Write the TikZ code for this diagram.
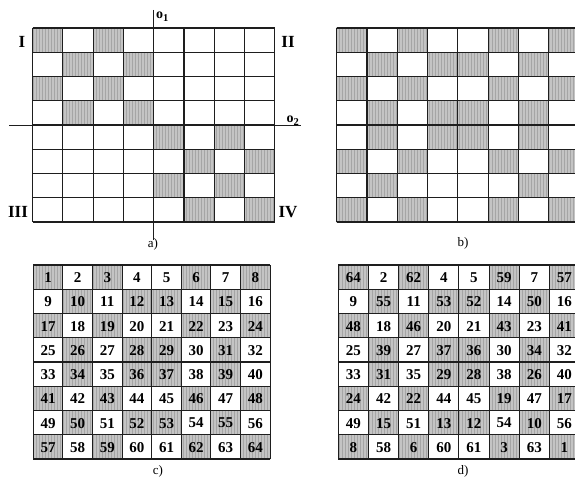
\documentclass[tikz,border=0pt]{standalone}
\usepackage{fontspec}
\setmainfont{Liberation Serif}
\usetikzlibrary{patterns}
\definecolor{hatch}{RGB}{196,196,196}
\definecolor{hatchline}{RGB}{165,165,165}
\definecolor{gridcol}{RGB}{30,30,30}
\tikzset{
  shadecell/.style={fill=hatch},
  hatchcell/.style={pattern=vertical lines, pattern color=hatchline},
  gridline/.style={draw=gridcol, line width=1.1pt},
  axisline/.style={draw=gridcol, line width=1pt},
  numtxt/.style={font=\fontsize{15}{15}\selectfont\bfseries, inner sep=0pt},
  romtxt/.style={font=\fontsize{17}{17}\selectfont\bfseries, inner sep=0pt},
  axtxt/.style={font=\fontsize{14}{14}\selectfont\bfseries, inner sep=0pt},
  captxt/.style={font=\fontsize{13}{13}\selectfont, inner sep=0pt}
}
% #1 left, #2 top, #3 cell w, #4 cell h, #5 shading list
\newcommand\shadegrid[5]{%
  \foreach \r/\cols in {#5}{%
    \foreach \c in \cols{%
      \path[shadecell] ({#1+(\c-1)*#3},{#2+(\r-1)*#4}) rectangle ++(#3,#4);
      \path[hatchcell] ({#1+(\c-1)*#3},{#2+(\r-1)*#4}) rectangle ++(#3,#4);
    }}%
  \foreach \i in {0,...,8}{%
    \draw[gridline] ({#1+\i*#3},#2) -- ({#1+\i*#3},{#2+8*#4});
    \draw[gridline] (#1,{#2+\i*#4}) -- ({#1+8*#3},{#2+\i*#4});
  }}
% #1 left, #2 top, #3 cell w, #4 cell h, #5 rows of numbers, #6 prefix
\newcommand\numgrid[6]{%
  \foreach \r/\row in {#5}{%
    \foreach \n [count=\c] in \row{%
      \node[numtxt] (#6-\r-\c) at ({#1+(\c-0.5)*#3},{#2+(\r-0.5)*#4+0.5}) {\n};
    }}}
\begin{document}
\begin{tikzpicture}[x=1pt,y=-1pt]
\useasboundingbox (0,0) rectangle (575,489);
\clip (0,0) rectangle (575,489);
\fill[white] (0,0) rectangle (575,489);

% ---------- panel a ----------
\shadegrid{32.5}{28}{30.3}{24.25}{1/{1,3},2/{2,4},3/{1,3},4/{2,4},5/{5,7},6/{6,8},7/{5,7},8/{6,8}}
\coordinate (vtop) at (153.7,10);
\coordinate (vbot) at (153.7,240);
\coordinate (hleft) at (9,126);
\coordinate (hright) at (301,126);
\draw[axisline] (vtop) -- (vbot);
\draw[axisline] (hleft) -- (hright);
\node[axtxt, anchor=base west] (o1) at (156,19) {o\raisebox{-0.45ex}{\fontsize{10.5}{10.5}\selectfont 1}};
\node[axtxt, anchor=base west] (o2) at (286.5,123) {o\raisebox{-0.45ex}{\fontsize{10.5}{10.5}\selectfont 2}};
\node[romtxt] (qI) at (22,42) {I};
\node[romtxt] (qII) at (288,42) {II};
\node[romtxt] (qIII) at (18,212) {III};
\node[romtxt] (qIV) at (288,212) {IV};
\node[captxt] (capa) at (153,244) {a)};

% ---------- panel b ----------
\shadegrid{336.7}{28}{30.3}{24.25}{1/{1,3,6,8},2/{2,4,5,7},3/{1,3,6,8},4/{2,4,5,7},5/{2,4,5,7},6/{1,3,6,8},7/{2,7},8/{1,3,6,8}}
\node[captxt] (capb) at (463,243) {b)};

% ---------- panel c ----------
\shadegrid{33.3}{265}{29.6}{24.25}{1/{1,3,6,8},2/{2,4,5,7},3/{1,3,6,8},4/{2,4,5,7},5/{2,4,5,7},6/{1,3,6,8},7/{2,4,5,7},8/{1,3,6,8}}
\numgrid{33.3}{265}{29.6}{24.25}{%
1/{1,2,3,4,5,6,7,8},
2/{9,10,11,12,13,14,15,16},
3/{17,18,19,20,21,22,23,24},
4/{25,26,27,28,29,30,31,32},
5/{33,34,35,36,37,38,39,40},
6/{41,42,43,44,45,46,47,48},
7/{49,50,51,52,53,54,55,56},
8/{57,58,59,60,61,62,63,64}}{c}
\node[captxt] (capc) at (158,471) {c)};

% ---------- panel d ----------
\shadegrid{338.3}{265}{30.15}{24.25}{1/{1,3,6,8},2/{2,4,5,7},3/{1,3,6,8},4/{2,4,5,7},5/{2,4,5,7},6/{1,3,6,8},7/{2,4,5,7},8/{1,3,6,8}}
\numgrid{338.3}{265}{30.15}{24.25}{%
1/{64,2,62,4,5,59,7,57},
2/{9,55,11,53,52,14,50,16},
3/{48,18,46,20,21,43,23,41},
4/{25,39,27,37,36,30,34,32},
5/{33,31,35,29,28,38,26,40},
6/{24,42,22,44,45,19,47,17},
7/{49,15,51,13,12,54,10,56},
8/{8,58,6,60,61,3,63,1}}{d}
\node[captxt] (capd) at (463,471) {d)};
\end{tikzpicture}
\end{document}
